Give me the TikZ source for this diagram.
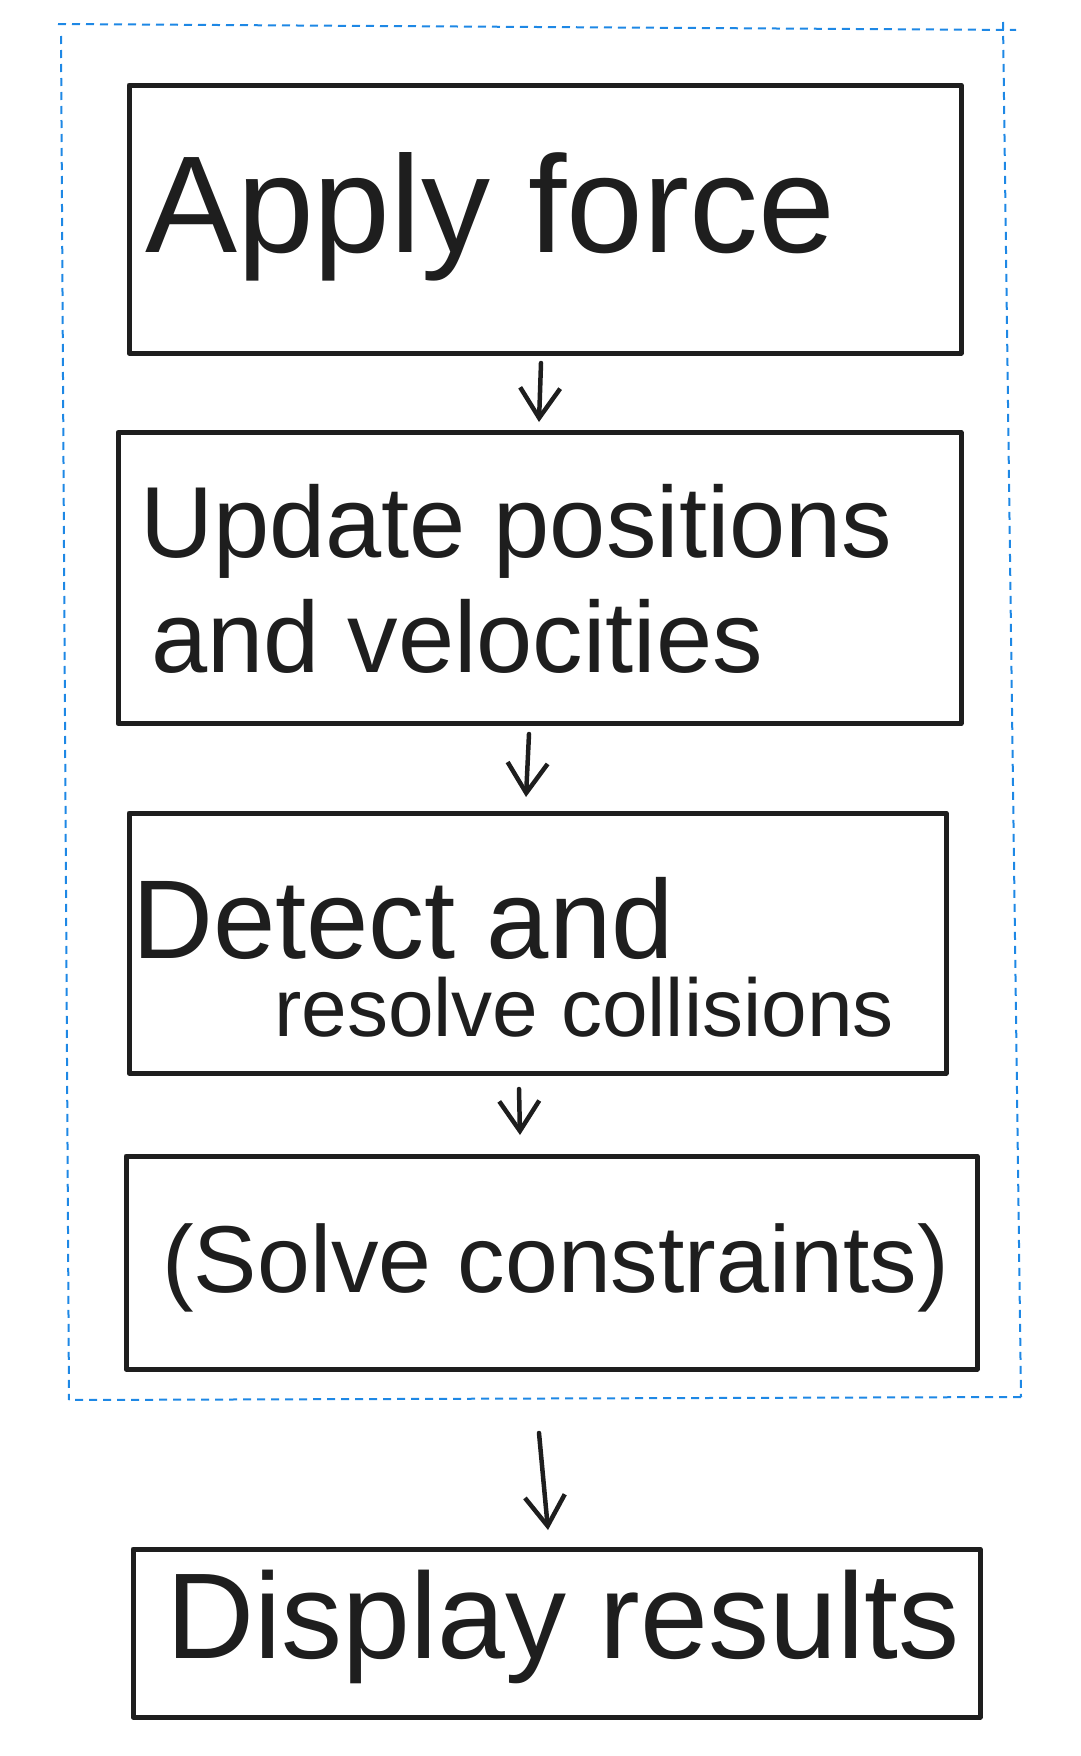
\documentclass[tikz,border=0pt]{standalone}
\usepackage{fontspec}
\setmainfont{Liberation Sans}
\usetikzlibrary{arrows.meta}
\definecolor{ink}{RGB}{30,30,30}
\definecolor{loopblue}{RGB}{30,136,229}
\tikzset{
  stepbox/.style={draw=ink, line width=5pt, rectangle, inner sep=0pt, line join=round},
  label/.style={anchor=base west, inner sep=0pt, text=ink},
  flow/.style={draw=ink, line width=4.5pt, line cap=round, line join=round,
    -{Straight Barb[length=30pt, width=40pt, line width=4.5pt]}},
  loopframe/.style={draw=loopblue, line width=2pt, dash pattern=on 8pt off 6pt}
}
\begin{document}
\begin{tikzpicture}[x=1pt, y=-1pt]
\useasboundingbox (0,0) rectangle (1081,1756);

% simulation loop frame
\coordinate (f1) at (58,24);
\coordinate (f2) at (1016,30);
\coordinate (f3) at (1021,1397);
\coordinate (f4) at (69,1400);
\draw[loopframe] (f1) -- (f2);
\draw[loopframe] (1003,22) -- (f3);
\draw[loopframe] (f3) -- (f4);
\draw[loopframe] (61,36) -- (f4);

% steps
\node[stepbox, minimum width=832pt, minimum height=268pt] (apply) at (545,219) {};
\node[stepbox, minimum width=843pt, minimum height=291pt] (update) at (539.5,578) {};
\node[stepbox, minimum width=817pt, minimum height=260pt] (detect) at (537.5,943) {};
\node[stepbox, minimum width=851pt, minimum height=213pt] (solve) at (551.5,1262.5) {};
\node[stepbox, minimum width=847pt, minimum height=168pt] (display) at (556.5,1633) {};

% labels
\node[label, font=\fontsize{138}{140}\selectfont] (tApply) at (145,252) {Apply force};
\node[label, font=\fontsize{101}{103}\selectfont] (tUpd1) at (140,557) {Update positions};
\node[label, font=\fontsize{101}{103}\selectfont] (tUpd2) at (151,672) {and velocities};
\node[label, font=\fontsize{112}{114}\selectfont] (tDet1) at (132,958) {Detect and};
\node[label, font=\fontsize{82}{84}\selectfont] (tDet2) at (274,1036) {resolve collisions};
\node[label, font=\fontsize{95}{97}\selectfont] (tSolve) at (162,1292) {(Solve constraints)};
\node[label, font=\fontsize{122}{124}\selectfont] (tDisp) at (166,1658) {Display results};

% connectors
\coordinate (a1s) at (541,363); \coordinate (a1e) at (539,422);
\coordinate (a2s) at (529,734); \coordinate (a2e) at (526,797);
\coordinate (a3s) at (519,1089); \coordinate (a3e) at (520,1135);
\coordinate (a4s) at (539,1433); \coordinate (a4e) at (548,1530);
\draw[flow] (a1s) -- (a1e);
\draw[flow] (a2s) -- (a2e);
\draw[flow] (a3s) -- (a3e);
\draw[flow] (a4s) -- (a4e);
\end{tikzpicture}
\end{document}
